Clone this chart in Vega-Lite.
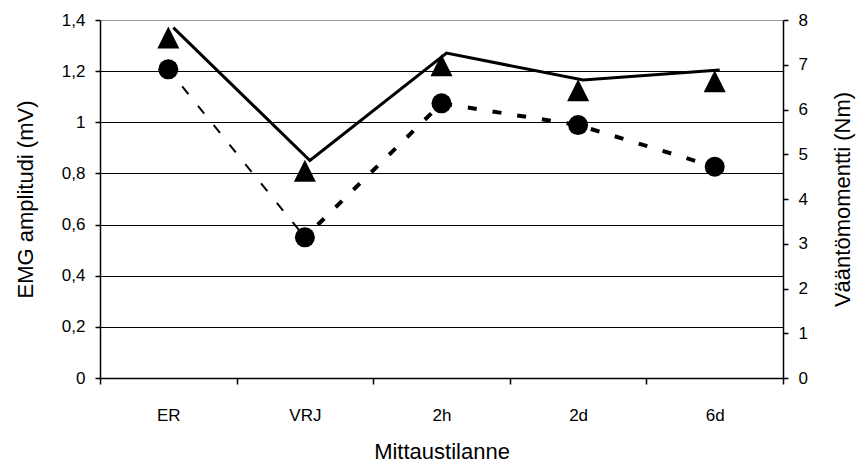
{
  "$schema": "https://vega.github.io/schema/vega-lite/v6.json",
  "width": 683,
  "height": 358,
  "autosize": {"type": "none"},
  "padding": {"left": 100, "top": 20, "right": 77, "bottom": 92},
  "background": "white",
  "config": {
    "view": {"stroke": null},
    "font": "Liberation Sans",
    "axis": {
      "domainColor": "black",
      "tickColor": "black",
      "labelColor": "black",
      "titleColor": "black",
      "labelFont": "Liberation Sans",
      "titleFont": "Liberation Sans",
      "titleFontWeight": "normal",
      "labelFontSize": 17,
      "titleFontSize": 22,
      "domainWidth": 1.5,
      "tickWidth": 1.5,
      "tickSize": 5,
      "labelPadding": 10
    }
  },
  "datasets": {
    "emg": [
      {"t": "ER", "v": 1.207},
      {"t": "VRJ", "v": 0.55},
      {"t": "2h", "v": 1.074},
      {"t": "2d", "v": 0.989},
      {"t": "6d", "v": 0.826}
    ],
    "torque": [
      {"t": "ER", "v": 7.61},
      {"t": "VRJ", "v": 4.63},
      {"t": "2h", "v": 6.99},
      {"t": "2d", "v": 6.43},
      {"t": "6d", "v": 6.63}
    ],
    "torqueLine": [
      {"t": "ER", "v": 7.83},
      {"t": "VRJ", "v": 4.86},
      {"t": "2h", "v": 7.26},
      {"t": "2d", "v": 6.66},
      {"t": "6d", "v": 6.88}
    ]
  },
  "encoding": {
    "x": {
      "field": "t",
      "type": "nominal",
      "sort": ["ER", "VRJ", "2h", "2d", "6d"],
      "scale": {"paddingInner": 0, "paddingOuter": 0},
      "axis": {
        "title": "Mittaustilanne",
        "labelAngle": 0,
        "tickBand": "extent",
        "grid": false,
        "tickSize": 6,
        "labelPadding": 23,
        "titlePadding": 18
      }
    }
  },
  "layer": [
    {
      "encoding": {
        "y": {
          "field": "v",
          "type": "quantitative",
          "scale": {"domain": [0, 1.4], "nice": false},
          "axis": {
            "orient": "left",
            "title": "EMG amplitudi (mV)",
            "values": [0, 0.2, 0.4, 0.6, 0.8, 1, 1.2, 1.4],
            "labelExpr": "replace(format(datum.value, '.1~f'), '.', ',')",
            "grid": true,
            "gridColor": {"condition": {"test": "datum.value >= 1.4", "value": "#999999"}, "value": "black"},
            "gridWidth": 1.2,
            "titlePadding": 24
          }
        }
      },
      "layer": [
        {
          "data": {"name": "emg"},
          "transform": [{"filter": {"field": "t", "oneOf": ["ER", "VRJ"]}}],
          "mark": {"type": "line", "color": "black", "strokeWidth": 2, "strokeDash": [10, 15], "strokeDashOffset": -22}
        },
        {
          "data": {"name": "emg"},
          "transform": [{"filter": {"field": "t", "oneOf": ["VRJ", "2h", "2d", "6d"]}}],
          "mark": {"type": "line", "color": "black", "strokeWidth": 4, "strokeDash": [9, 16], "strokeDashOffset": -18}
        },
        {
          "data": {"name": "emg"},
          "mark": {"type": "point", "shape": "circle", "filled": true, "color": "black", "opacity": 1, "size": 400}
        }
      ]
    },
    {
      "encoding": {
        "y": {
          "field": "v",
          "type": "quantitative",
          "scale": {"domain": [0, 8], "nice": false},
          "axis": {
            "orient": "right",
            "title": "Vääntömomentti (Nm)",
            "values": [0, 1, 2, 3, 4, 5, 6, 7, 8],
            "grid": false,
            "titleAngle": -90,
            "titlePadding": 47
          }
        }
      },
      "layer": [
        {
          "data": {"name": "torqueLine"},
          "mark": {"type": "line", "color": "black", "strokeWidth": 3, "xOffset": 5}
        },
        {
          "data": {"name": "torque"},
          "mark": {"type": "point", "shape": "M0,-1L1,1L-1,1Z", "filled": true, "color": "black", "opacity": 1, "size": 484}
        }
      ]
    }
  ],
  "resolve": {"scale": {"y": "independent"}}
}
